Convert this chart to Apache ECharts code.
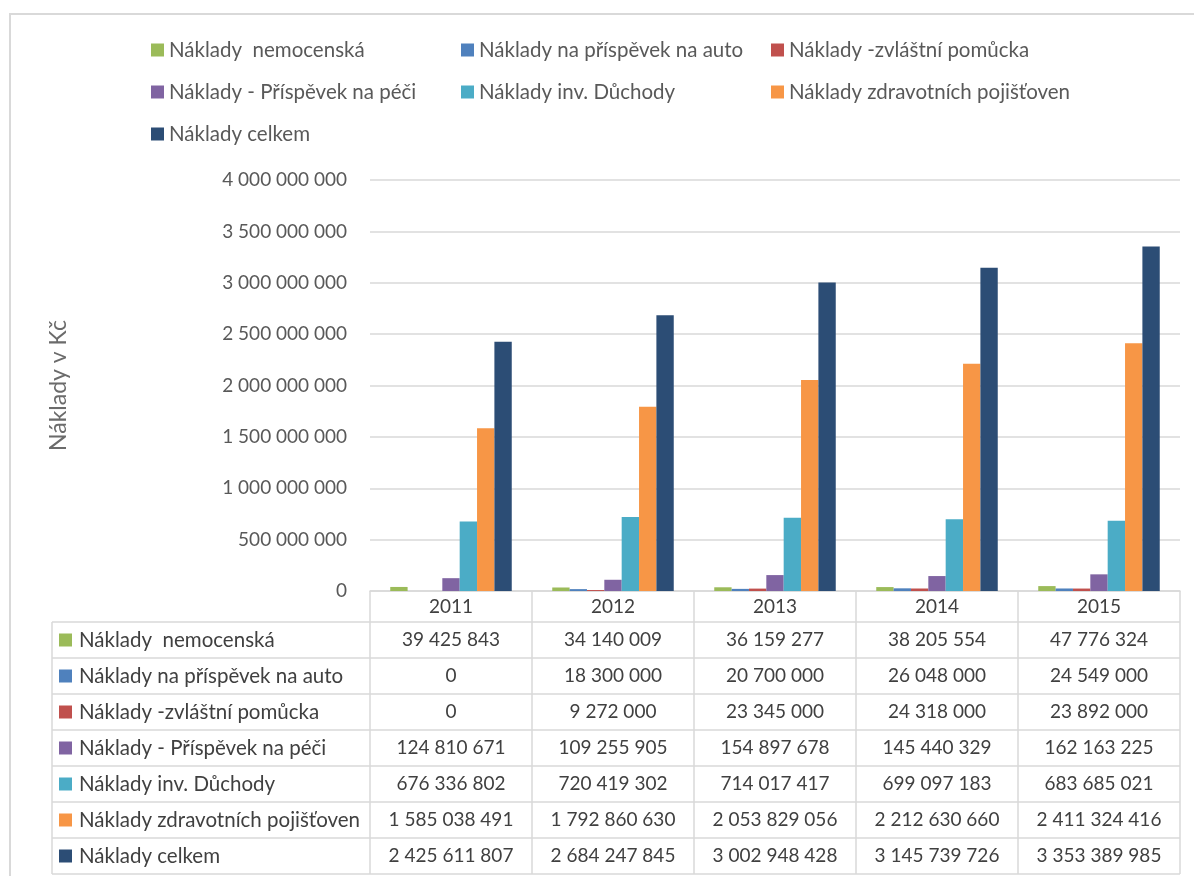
<!DOCTYPE html>
<html lang="cs">
<head>
<meta charset="utf-8">
<title>Náklady</title>
<script src="https://cdn.jsdelivr.net/npm/echarts@6/dist/echarts.min.js"></script>
<style>
  html, body { margin: 0; padding: 0; background: #fff; }
  #chart { width: 1194px; height: 876px; }
</style>
</head>
<body>
<div id="chart"></div>
<script>
// Roky a náklady podle druhu (Kč)
const years = ['2011', '2012', '2013', '2014', '2015'];
const nemocenska = [39425843, 34140009, 36159277, 38205554, 47776324];
const prispevekAuto = [0, 18300000, 20700000, 26048000, 24549000];
const zvlastniPomucka = [0, 9272000, 23345000, 24318000, 23892000];
const prispevekPece = [124810671, 109255905, 154897678, 145440329, 162163225];
const invDuchody = [676336802, 720419302, 714017417, 699097183, 683685021];
const zdravotniPojistovny = [1585038491, 1792860630, 2053829056, 2212630660, 2411324416];
const celkem = [2425611807, 2684247845, 3002948428, 3145739726, 3353389985];

const seriesNames = [
  'Náklady  nemocenská',
  'Náklady na příspěvek na auto',
  'Náklady -zvláštní pomůcka',
  'Náklady - Příspěvek na péči',
  'Náklady inv. Důchody',
  'Náklady zdravotních pojišťoven',
  'Náklady celkem'
];
const seriesData = [nemocenska, prispevekAuto, zvlastniPomucka, prispevekPece, invDuchody, zdravotniPojistovny, celkem];
const colors = ['#9bbb59', '#4f81bd', '#c0504d', '#8064a2', '#4bacc6', '#f79646', '#2c4d75'];

const yMin = 0, yMax = 4000000000, yStep = 500000000;

const FONT = 'Lato';
const TEXT_SIZE = 20.5;   // popisky řad
const NUM_SIZE = 19;      // čísla
const AXIS_TEXT = '#595959';
const TABLE_TEXT = '#404040';
const LINE = '#d9d9d9';

function fmt(v) {
  return String(v).replace(/\B(?=(\d{3})+(?!\d))/g, ' ');
}

const chart = echarts.init(document.getElementById('chart'), null, { renderer: 'canvas' });

function legendCol(left, names) {
  return {
    orient: 'vertical',
    left: left,
    top: 39,
    padding: 0,
    itemWidth: 13,
    itemHeight: 13,
    itemGap: 20,
    itemTextGap: 5,
    icon: 'rect',
    selectedMode: false,
    data: names,
    textStyle: { fontFamily: FONT, fontSize: TEXT_SIZE, color: AXIS_TEXT, lineHeight: 22 }
  };
}

const grid = { left: 370, right: 14, top: 180, bottom: 285 };

const option = {
  animation: false,
  textStyle: { fontFamily: FONT },
  color: colors,
  legend: [
    legendCol(151, [seriesNames[0], seriesNames[3], seriesNames[6]]),
    legendCol(461, [seriesNames[1], seriesNames[4]]),
    legendCol(771, [seriesNames[2], seriesNames[5]])
  ],
  grid: grid,
  xAxis: {
    type: 'category',
    data: years,
    axisLine: { show: true, lineStyle: { color: LINE, width: 1.5 } },
    axisTick: { show: true, length: 31, interval: 0, lineStyle: { color: LINE, width: 1.5 } },
    axisLabel: { fontFamily: FONT, fontSize: NUM_SIZE, color: TABLE_TEXT, margin: 6 }
  },
  yAxis: {
    type: 'value',
    min: yMin,
    max: yMax,
    interval: yStep,
    name: 'Náklady v Kč',
    nameLocation: 'middle',
    nameRotate: 90,
    nameGap: 300,
    nameTextStyle: { fontFamily: FONT, fontSize: 23, color: '#6b6b6b' },
    axisLine: { show: false },
    axisTick: { show: false },
    axisLabel: { fontFamily: FONT, fontSize: NUM_SIZE, color: AXIS_TEXT, margin: 23, formatter: fmt },
    splitLine: { lineStyle: { color: LINE, width: 1.5 } }
  },
  series: seriesNames.map((name, i) => ({
    name: name,
    type: 'bar',
    data: seriesData[i],
    barGap: '0%',
    barCategoryGap: '25%',
    itemStyle: { color: colors[i] }
  }))
};

chart.setOption(option);

// Datová tabulka pod grafem
function buildTable() {
  const els = [];
  const xs = years.map((_, i) => chart.convertToPixel({ xAxisIndex: 0 }, i));
  const band = xs.length > 1 ? xs[1] - xs[0] : 162;
  const plotLeft = xs[0] - band / 2;
  const plotRight = xs[xs.length - 1] + band / 2;
  const headerTop = chart.convertToPixel({ yAxisIndex: 0 }, 0);
  const rowsTop = headerTop + 31;
  const rowH = 36;
  const tableLeft = 52;
  const nRows = seriesNames.length;

  // vodorovné čáry
  for (let r = 0; r <= nRows; r++) {
    const y = rowsTop + r * rowH;
    els.push({ type: 'line', shape: { x1: tableLeft, y1: y, x2: plotRight, y2: y }, style: { stroke: LINE, lineWidth: 1.5 }, silent: true });
  }
  // svislé čáry
  const vx = [tableLeft];
  for (let c = 0; c <= years.length; c++) vx.push(plotLeft + c * band);
  vx.forEach(x => {
    els.push({ type: 'line', shape: { x1: x, y1: rowsTop, x2: x, y2: rowsTop + nRows * rowH }, style: { stroke: LINE, lineWidth: 1.5 }, silent: true });
  });

  // popisky řádků a hodnoty
  for (let r = 0; r < nRows; r++) {
    const cy = rowsTop + r * rowH + rowH / 2;
    els.push({ type: 'rect', shape: { x: tableLeft + 7, y: cy - 6.5, width: 13, height: 13 }, style: { fill: colors[r] }, silent: true });
    els.push({ type: 'text', x: tableLeft + 27, y: cy, style: { text: seriesNames[r], font: TEXT_SIZE + 'px ' + FONT, fill: TABLE_TEXT, verticalAlign: 'middle' }, silent: true });
    seriesData[r].forEach((v, c) => {
      els.push({ type: 'text', x: xs[c], y: cy, style: { text: fmt(v), font: NUM_SIZE + 'px ' + FONT, fill: TABLE_TEXT, align: 'center', verticalAlign: 'middle' }, silent: true });
    });
  }

  // rámeček celé oblasti grafu
  els.push({ type: 'rect', shape: { x: 10, y: 14, width: 1200, height: 900 }, style: { fill: 'none', stroke: LINE, lineWidth: 2 }, silent: true, z: -1 });
  return els;
}

chart.setOption({ graphic: { elements: buildTable() } });
</script>
</body>
</html>
